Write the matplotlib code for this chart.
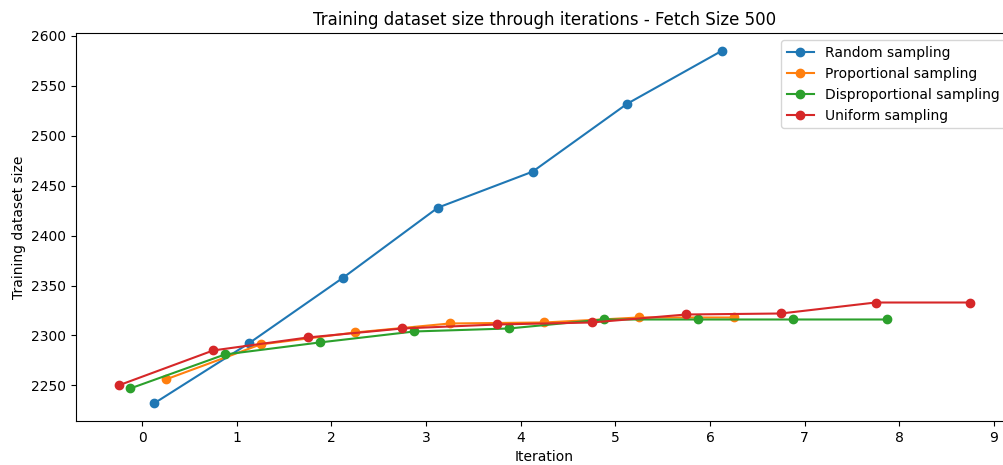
import numpy as np
import matplotlib
matplotlib.use('Agg')
import matplotlib.pyplot as plt

# training set size after each iteration, per sampling strategy
random_sizes = [2232, 2292, 2358, 2428, 2464, 2532, 2585]
proportional_sizes = [2256, 2291, 2303, 2312, 2313, 2318, 2318]
disproportional_sizes = [2247, 2281, 2293, 2304, 2307, 2316, 2316, 2316, 2316]
uniform_sizes = [2250, 2285, 2298, 2307, 2311, 2313, 2321, 2322, 2333, 2333]

labels = ['Random sampling', 'Proportional sampling',
          'Disproportional sampling', 'Uniform sampling']
# small horizontal shift per strategy so the markers don't sit on top of each other
offsets = [0.125, 0.25, -0.125, -0.25]

fig = plt.figure(figsize=(10.04, 4.65), dpi=100)
ax = fig.add_axes([0.0757, 0.0946, 0.933, 0.834])

for sizes, label, off in zip([random_sizes, proportional_sizes,
                              disproportional_sizes, uniform_sizes],
                             labels, offsets):
    x = np.arange(len(sizes)) + off
    ax.plot(x, sizes, marker='o', label=label)

ax.set_title('Training dataset size through iterations - Fetch Size 500')
ax.set_xlabel('Iteration')
ax.set_ylabel('Training dataset size')
ax.set_xticks(range(10))
ax.legend(loc='upper right')

fig.savefig('out.png', dpi=100)
